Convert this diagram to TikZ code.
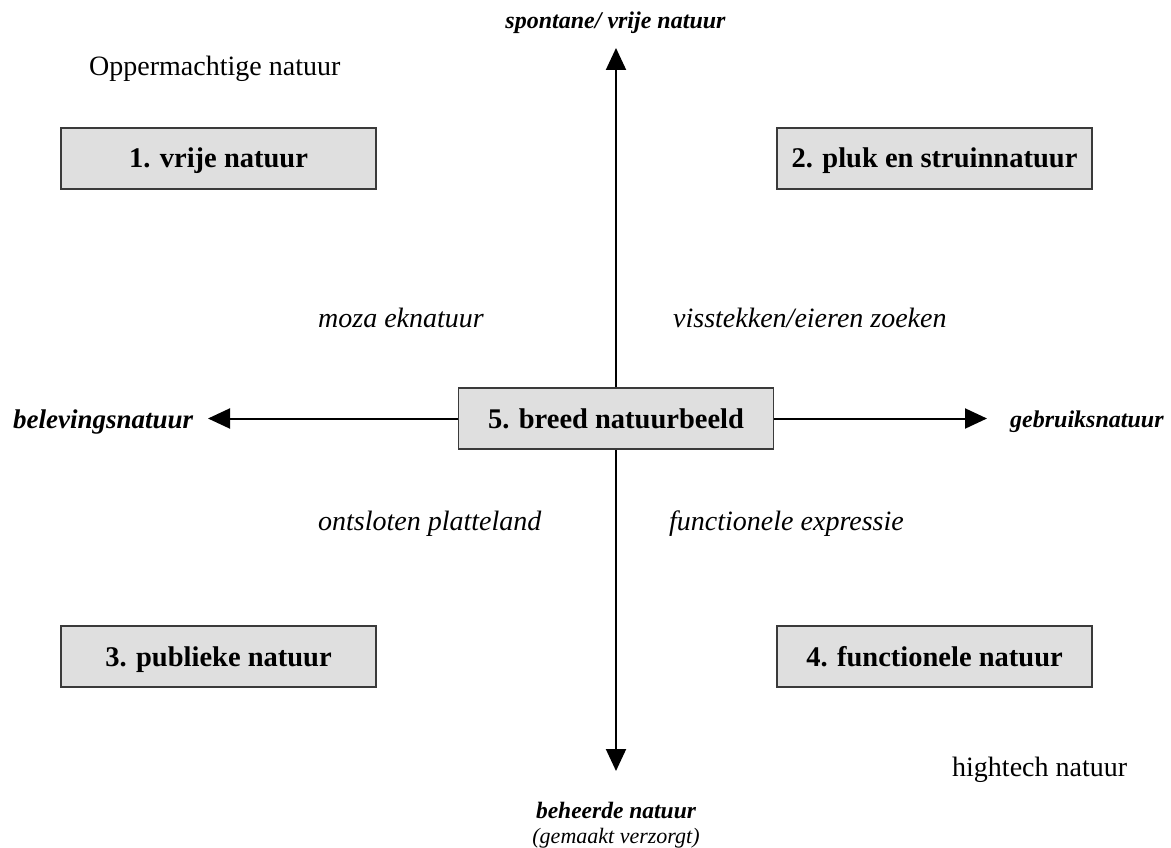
\documentclass[tikz,border=0pt]{standalone}
\usepackage{fontspec}
\setmainfont{Liberation Serif}
\usetikzlibrary{arrows.meta}
\definecolor{boxgray}{HTML}{DFDFDF}
\definecolor{boxedge}{HTML}{3A3A3A}
\begin{document}
\begin{tikzpicture}[x=1pt,y=-1pt,
  quad/.style={draw=boxedge, line width=1.6pt, fill=boxgray,
    minimum width=315pt, minimum height=61pt, inner sep=0pt,
    text height=19pt, text depth=0pt,
    font=\fontsize{28.5}{32}\selectfont\bfseries},
  axis/.style={line width=2pt, -{Triangle[length=22pt,width=20pt]}},
  qlabel/.style={anchor=base west, inner sep=0pt, font=\fontsize{28}{32}\selectfont\itshape},
  plain/.style={anchor=base west, inner sep=0pt, font=\fontsize{28}{32}\selectfont},
  pole/.style={inner sep=0pt, font=\fontsize{24}{28}\selectfont\bfseries\itshape}]
\useasboundingbox (0,0) rectangle (1171,848);

% boxes
\node[quad] (b1) at (218.5,158.5) {1. vrije natuur};
\node[quad] (b2) at (934.5,158.5) {2. pluk en struinnatuur};
\node[quad] (b3) at (218.5,656.5) {3. publieke natuur};
\node[quad] (b4) at (934.5,656.5) {4. functionele natuur};
\node[quad] (b5) at (616,418.5) {5. breed natuurbeeld};

% axis tips
\coordinate (tipN) at (616,48);
\coordinate (tipS) at (616,771);
\coordinate (tipW) at (208,418.5);
\coordinate (tipE) at (987,418.5);

\draw[axis] (b5.north) -- (tipN);
\draw[axis] (b5.south) -- (tipS);
\draw[axis] (b5.west) -- (tipW);
\draw[axis] (b5.east) -- (tipE);

% pole labels
\node[pole, anchor=base] (pN) at (615.5,29) {spontane/ vrije natuur};
\node[pole, anchor=base west, font=\fontsize{27}{30}\selectfont\bfseries\itshape] (pW) at (13,428) {belevingsnatuur};
\node[pole, anchor=base west] (pE) at (1010,427) {gebruiksnatuur};
\node[pole, anchor=base, font=\fontsize{23.5}{26}\selectfont\bfseries\itshape] (pS) at (616,818) {beheerde natuur};
\node[anchor=base, inner sep=0pt, font=\fontsize{22}{26}\selectfont\itshape] (pS2) at (616,843) {(gemaakt verzorgt)};

% corner labels
\node[plain] (opp) at (89,76) {Oppermachtige natuur};
\node[plain] (hig) at (952,776) {hightech natuur};

% quadrant labels
\node[qlabel] (q1) at (318,327) {moza eknatuur};
\node[qlabel] (q2) at (673,327) {visstekken/eieren zoeken};
\node[qlabel] (q3) at (318,530) {ontsloten platteland};
\node[qlabel] (q4) at (669,530) {functionele expressie};
\end{tikzpicture}
\end{document}
